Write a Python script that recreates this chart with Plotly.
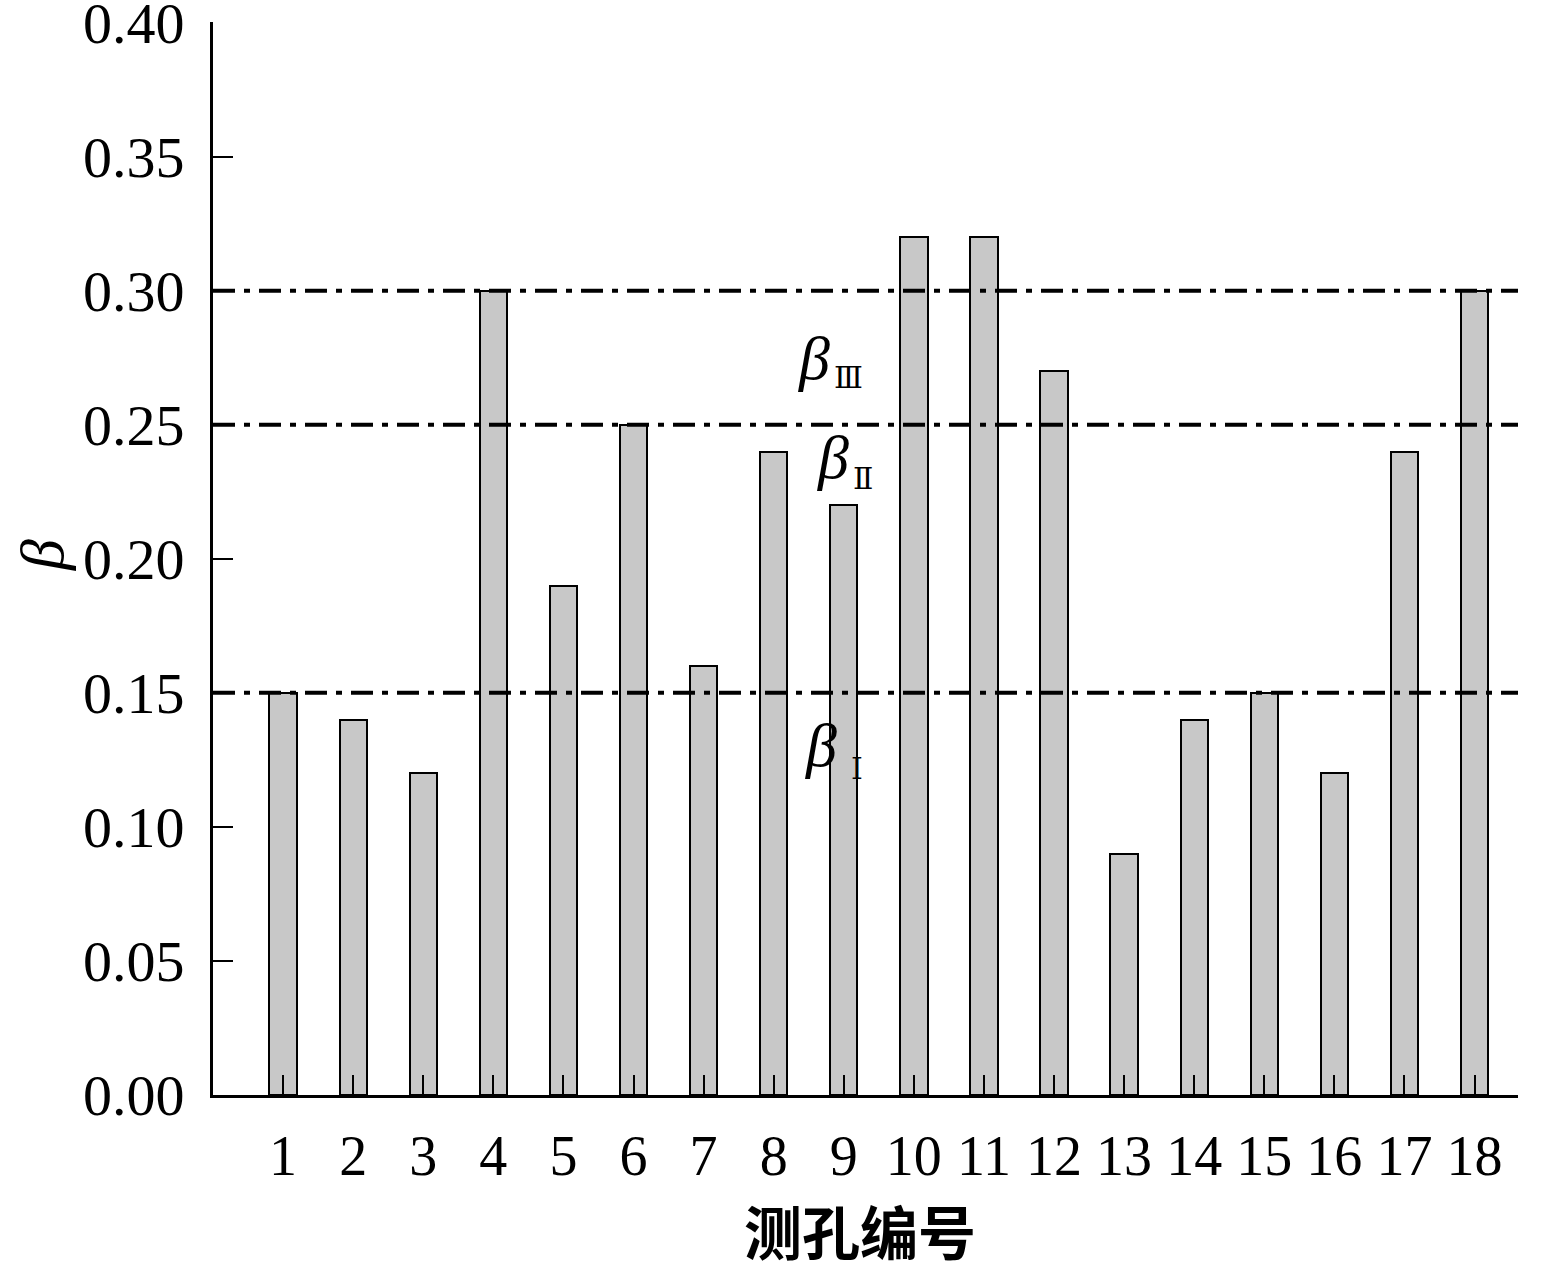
import plotly.graph_objects as go

holes = list(range(1, 19))
beta = [0.15, 0.14, 0.12, 0.30, 0.19, 0.25, 0.16, 0.24, 0.22, 0.32,
        0.32, 0.27, 0.09, 0.14, 0.15, 0.12, 0.24, 0.30]
thresholds = [0.15, 0.25, 0.30]
threshold_names = ["Ⅰ", "Ⅱ", "Ⅲ"]
y_ticks = [0.00, 0.05, 0.10, 0.15, 0.20, 0.25, 0.30, 0.35, 0.40]

XMAX = 18.62
serif = "Liberation Serif, Times New Roman, serif"

fig = go.Figure()
fig.add_trace(go.Bar(
    x=holes, y=beta, width=0.39,
    marker=dict(color="#c8c8c8", line=dict(color="black", width=2)),
    showlegend=False,
))

for t in thresholds:
    fig.add_trace(go.Scatter(
        x=[0, XMAX], y=[t, t], mode="lines",
        line=dict(color="black", width=4, dash="22px,9px,6px,9px"),
        showlegend=False, hoverinfo="skip",
    ))

# label positions (data coordinates)
label_pos = {
    "Ⅲ": ((8.58, 0.275), (9.07, 0.2677)),
    "Ⅱ": ((8.85, 0.2378), (9.28, 0.230)),
    "Ⅰ": ((8.68, 0.1305), (9.19, 0.1219)),
}
for name in threshold_names:
    (bx, by), (sx, sy) = label_pos[name]
    fig.add_annotation(x=bx, y=by, xref="x", yref="y", text="<i>β</i>",
                       xanchor="center", yanchor="middle",
                       showarrow=False, font=dict(family=serif, size=62, color="black"))
    fig.add_annotation(x=sx, y=sy, xref="x", yref="y", text=name,
                       xanchor="center", yanchor="middle",
                       showarrow=False, font=dict(family="DejaVu Serif", size=30, color="black"))

# axis titles
fig.add_annotation(x=(860 - 213) / (1518 - 213), y=-(1230 - 1095) / (1095 - 22),
                   xref="paper", yref="paper", text="<b>测孔编号</b>", showarrow=False,
                   xanchor="center", yanchor="middle",
                   font=dict(family="Noto Sans CJK SC", size=58, color="black"))
fig.add_annotation(x=-(213 - 42) / (1518 - 213), y=(1095 - 555) / (1095 - 22),
                   xref="paper", yref="paper", text="<i>β</i>", showarrow=False, textangle=-90,
                   xanchor="center", yanchor="middle",
                   font=dict(family=serif, size=62, color="black"))

fig.update_layout(
    width=1548, height=1262,
    margin=dict(l=213, r=30, t=22, b=167),
    plot_bgcolor="white", paper_bgcolor="white",
    bargap=0,
    xaxis=dict(
        range=[0, XMAX], tickmode="array", tickvals=holes,
        ticktext=[str(h) for h in holes],
        ticks="inside", ticklen=20, tickwidth=2, tickcolor="black",
        showline=True, linecolor="black", linewidth=3,
        showgrid=False, zeroline=False, automargin=False,
        tickfont=dict(family=serif, size=56, color="black"),
        ticklabelstandoff=10, ticklabeloverflow="allow",
    ),
    yaxis=dict(
        range=[0, 0.4002], tickmode="array", tickvals=y_ticks,
        ticktext=[f"{v:.2f}" for v in y_ticks],
        ticks="inside", ticklen=20, tickwidth=2, tickcolor="black",
        showline=True, linecolor="black", linewidth=3,
        showgrid=False, zeroline=False, automargin=False,
        tickfont=dict(family=serif, size=58, color="black"),
        ticklabelstandoff=14, ticklabeloverflow="allow",
    ),
)

fig.write_html("out.html", config={"displayModeBar": False},
               post_script="document.body.style.margin='0';document.body.style.overflow='hidden';")
